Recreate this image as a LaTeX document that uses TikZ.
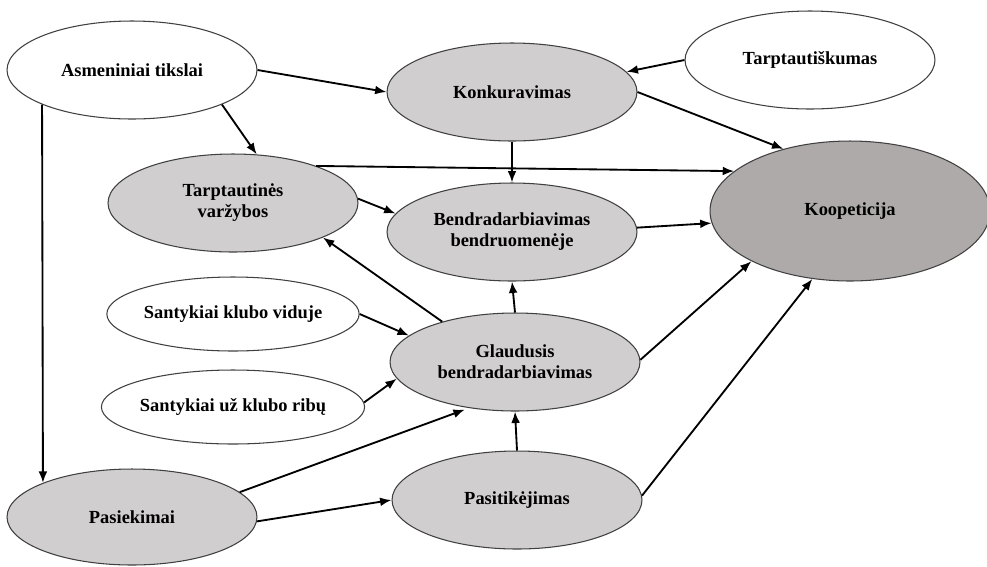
\documentclass[tikz,border=0pt]{standalone}
\usepackage{fontspec}
\setmainfont{Liberation Serif}
\usetikzlibrary{shapes.geometric,arrows.meta}
\definecolor{lightfill}{HTML}{D0CECE}
\definecolor{darkfill}{HTML}{AEAAAA}
\begin{document}
\begin{tikzpicture}[x=0.02cm,y=-0.02cm,
  oval/.style={ellipse,draw=black!75,line width=0.6pt,inner sep=0pt,align=center,
    font=\fontsize{10.5}{12}\selectfont\bfseries,minimum width=5cm,minimum height=1.96cm},
  wht/.style={oval,fill=white},
  gry/.style={oval,fill=lightfill},
  arr/.style={-{Latex[length=6.5pt,width=5pt]},line width=1.05pt,black},
  ln/.style={line width=1.05pt,black}]
\clip (0,0) rectangle (987,566);
\fill[white] (0,0) rectangle (987,566);
\node[wht] (asm) at (132,70) {Asmeniniai tikslai};
\node[gry] (konk) at (512,92) {Konkuravimas};
\node[wht] (tarpt) at (810,60) {Tarptautiškumas};
\node[gry] (tv) at (233,203) {Tarptautinės\\varžybos};
\node[gry] (bendr) at (512,232) {Bendradarbiavimas\\bendruomenėje};
\node[oval,fill=darkfill,minimum width=5.6cm,minimum height=2.8cm] (koop) at (850,211) {Koopeticija};
\node[wht,minimum height=1.48cm] (sv) at (233,314) {Santykiai klubo viduje};
\node[gry] (glaud) at (515,362) {Glaudusis\\bendradarbiavimas};
\node[wht,minimum height=1.48cm] (su) at (233,407) {Santykiai už klubo ribų};
\node[gry,minimum height=1.92cm] (pasiek) at (132,517) {Pasiekimai};
\node[gry] (pasit) at (517,500) {Pasitikėjimas};

\draw[arr] (asm.east) -- (konk.west);
\draw[arr] (asm.-21) -- (tv.64);
\draw[arr] (asm.201) -- (pasiek.159);
\draw[arr] (tarpt.west) -- (konk.10);
\draw[arr] (konk.east) -- (koop.137);
\draw[arr] (konk.south) -- (bendr.north);
\draw[arr] (tv.24) -- (koop.161);
\draw[arr] (tv.2) -- (bendr.171);
\draw[arr] (bendr.2) -- (koop.185);
\draw[arr] (glaud.north) -- (bendr.south);
\draw[arr] (glaud.151) -- (tv.-21);
\draw[arr] (sv.east) -- (glaud.166);
\draw[arr] (su.2) -- (glaud.188);
\draw[arr,shorten >=2.5pt] (pasiek.13) -- (glaud.225);
\draw[arr] (pasiek.-2) -- (pasit.west);
\draw[arr] (pasit.north) -- (glaud.south);
\draw[arr] (glaud.1.5) -- (koop.207);
\draw[arr] (pasit.2) -- (koop.241);
\end{tikzpicture}
\end{document}
